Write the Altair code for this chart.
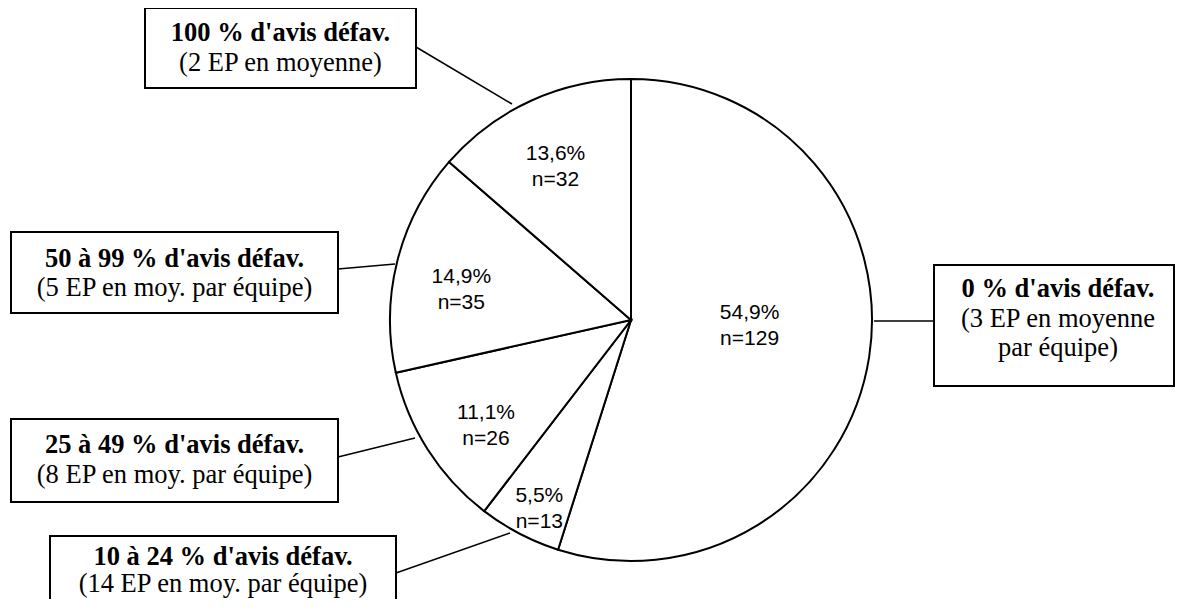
import altair as alt
import pandas as pd

# ---------------- data ----------------
categories = [
    "0 % d'avis défav.",
    "10 à 24 % d'avis défav.",
    "25 à 49 % d'avis défav.",
    "50 à 99 % d'avis défav.",
    "100 % d'avis défav.",
]
counts = [129, 13, 26, 35, 32]
ep_notes = [
    "(3 EP en moyenne\npar équipe)",
    "(14 EP en moy. par équipe)",
    "(8 EP en moy. par équipe)",
    "(5 EP en moy. par équipe)",
    "(2 EP en moyenne)",
]

total = sum(counts)
pct_text = [f"{100 * n / total:.1f}".replace(".", ",") + "%" for n in counts]
pie_df = pd.DataFrame({
    "cat": categories,
    "n": counts,
    "idx": list(range(len(categories))),
    "label": [f"{p}\nn={n}" for p, n in zip(pct_text, counts)],
})

# ---------------- layout (page pixels) ----------------
OFF = 8                       # page margin
W, H = 1167, 591
PIE_CX, PIE_CY, PIE_R = 631, 320, 241
# label radius / nudge per slice (by index)
LABEL_POS = {0: (118, 2, -25), 1: (198, 0, 0), 2: (172, 0, 0), 3: (175, 0, 0), 4: (182, 0, 0)}

# box: x1, y1, x2, y2 ; text centre x ; head baseline ; body baseline ; connector x1,y1,x2,y2
BOXES = {
    0: (934, 265, 1174, 386, 1058, 297, 326.5, 874, 321, 934, 321),
    1: (50, 536, 396, 640, 223, 565, 592, 396, 573, 510, 533),
    2: (11, 419, 338, 502, 174.5, 453, 483, 338, 457, 415, 438),
    3: (11, 232, 338, 313, 174.5, 266.5, 296, 338, 269, 395, 264),
    4: (145, 8, 416, 88, 280.5, 41, 70.5, 416, 47, 512, 104),
}
rows = []
for i, cat in enumerate(categories):
    bx1, by1, bx2, by2, tx, ty1, ty2, lx1, ly1, lx2, ly2 = BOXES[i]
    rows.append(dict(
        head=cat, body=ep_notes[i],
        bx1=bx1 - OFF, by1=by1 - OFF, bx2=bx2 - OFF, by2=by2 - OFF,
        tx=tx - OFF, ty1=ty1 - OFF, ty2=ty2 - OFF,
        lx1=lx1 - OFF, ly1=ly1 - OFF, lx2=lx2 - OFF, ly2=ly2 - OFF,
    ))
call_df = pd.DataFrame(rows)

# ---------------- chart ----------------
base = alt.Chart(pie_df).encode(
    theta=alt.Theta("n:Q", stack=True),
    order=alt.Order("idx:Q", sort="ascending"),
    x=alt.value(PIE_CX - OFF),
    y=alt.value(PIE_CY - OFF),
)

arc = base.mark_arc(radius=PIE_R, stroke="black", strokeWidth=2, fill="white")

label_layers = []
for i, (r, dx, dy) in LABEL_POS.items():
    label_layers.append(
        base.mark_text(
            radius=r, dx=dx, dy=dy, font="Liberation Sans", fontSize=21,
            lineBreak="\n", lineHeight=26, align="center", baseline="middle",
            color="black",
        ).encode(text=alt.condition(alt.datum.idx == i, alt.Text("label:N"), alt.value("")))
    )

cbase = alt.Chart(call_df)
connectors = cbase.mark_rule(color="black", strokeWidth=1.5).encode(
    x=alt.X("lx1:Q", scale=None, axis=None), x2="lx2:Q",
    y=alt.Y("ly1:Q", scale=None, axis=None), y2="ly2:Q",
)
boxes = cbase.mark_rect(fill="white", stroke="black", strokeWidth=2).encode(
    x=alt.X("bx1:Q", scale=None, axis=None), x2="bx2:Q",
    y=alt.Y("by1:Q", scale=None, axis=None), y2="by2:Q",
)
heads = cbase.mark_text(
    font="Liberation Serif", fontWeight="bold", fontSize=26.5,
    align="center", baseline="alphabetic", color="black",
).encode(
    x=alt.X("tx:Q", scale=None, axis=None),
    y=alt.Y("ty1:Q", scale=None, axis=None),
    text="head:N",
)
bodies = cbase.mark_text(
    font="Liberation Serif", fontSize=26.5, lineBreak="\n", lineHeight=29,
    align="center", baseline="alphabetic", color="black",
).encode(
    x=alt.X("tx:Q", scale=None, axis=None),
    y=alt.Y("ty2:Q", scale=None, axis=None),
    text="body:N",
)

chart = alt.layer(connectors, arc, *label_layers, boxes, heads, bodies).properties(
    width=W, height=H, padding=0, autosize="none", background="white"
).configure_view(stroke=None)

chart.save("out.html", embed_options={"renderer": "svg", "actions": False})
